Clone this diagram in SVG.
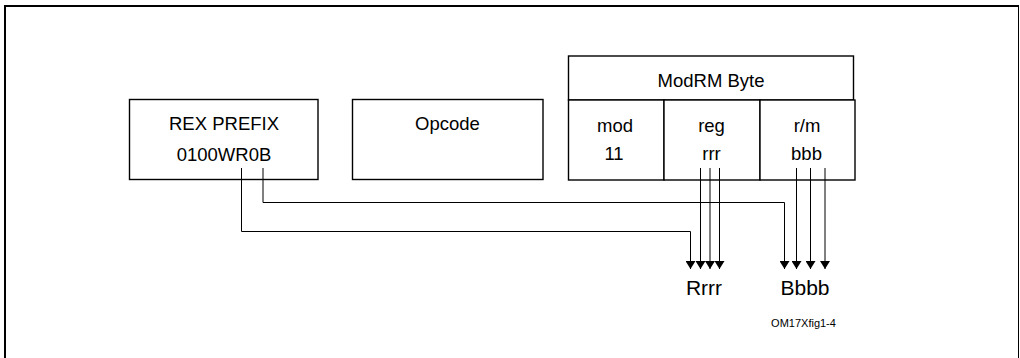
<svg xmlns="http://www.w3.org/2000/svg" width="1020" height="358" viewBox="0 0 1020 358">
<style>
.box{fill:#fff;stroke:#000;stroke-width:1.4}
.t{font-family:"Liberation Sans",Arial,sans-serif;font-size:18.5px;fill:#000;text-anchor:middle}
.lab{font-family:"Liberation Sans",Arial,sans-serif;font-size:21px;fill:#000;text-anchor:middle}
.fig{font-family:"Liberation Sans",Arial,sans-serif;font-size:11px;fill:#000;text-anchor:middle}
.c{fill:none;stroke:#000;stroke-width:1}
</style>
<defs>
<marker id="ah" viewBox="0 0 8 10" refX="8" refY="5" markerWidth="8" markerHeight="10" markerUnits="userSpaceOnUse" orient="auto">
<path d="M0,0 L8,5 L0,10 Z" fill="#000"/>
</marker>
</defs>
<rect width="1020" height="358" fill="#fff"/>
<g id="frame">
<line x1="5" y1="358" x2="5" y2="5" stroke="#000" stroke-width="2"/>
<line x1="4" y1="6" x2="1018" y2="6" stroke="#000" stroke-width="2"/>
<line x1="1018.5" y1="5" x2="1018.5" y2="358" stroke="#000" stroke-width="1"/>
</g>
<g id="rex">
<rect class="box" x="129.5" y="99.5" width="188.5" height="80"/>
<text class="t" x="224" y="130">REX PREFIX</text>
<text class="t" x="224" y="161">0100WR0B</text>
</g>
<g id="opcode">
<rect class="box" x="352.5" y="99.5" width="190.5" height="80"/>
<text class="t" x="447.5" y="130">Opcode</text>
</g>
<g id="modrm">
<rect class="box" x="568.5" y="56" width="285" height="44"/>
<text class="t" x="711" y="87">ModRM Byte</text>
</g>
<g id="mod">
<rect class="box" x="568.5" y="100" width="95.5" height="80"/>
<text class="t" x="615" y="131.5">mod</text>
<text class="t" x="614" y="160">11</text>
</g>
<g id="reg">
<rect class="box" x="664" y="100" width="96" height="80"/>
<text class="t" x="711.5" y="131.5">reg</text>
<text class="t" x="711.5" y="160">rrr</text>
</g>
<g id="rm">
<rect class="box" x="760" y="100" width="95" height="80"/>
<text class="t" x="807" y="131.5">r/m</text>
<text class="t" x="806.5" y="160">bbb</text>
</g>
<g id="connectors">
<path class="c" d="M241.5,168 V231.5 H690.5 V269" marker-end="url(#ah)"/>
<path class="c" d="M263,168 V202.5 H784.5 V269" marker-end="url(#ah)"/>
<path class="c" d="M700.5,168 V269" marker-end="url(#ah)"/>
<path class="c" d="M710,168 V269" marker-end="url(#ah)"/>
<path class="c" d="M719.5,168 V269" marker-end="url(#ah)"/>
<path class="c" d="M796.5,168 V269" marker-end="url(#ah)"/>
<path class="c" d="M810.5,168 V269" marker-end="url(#ah)"/>
<path class="c" d="M825,168 V269" marker-end="url(#ah)"/>
</g>
<g id="labels">
<text class="lab" x="704" y="295">Rrrr</text>
<text class="lab" x="805" y="295">Bbbb</text>
<text class="fig" x="803.5" y="327">OM17Xfig1-4</text>
</g>
</svg>
